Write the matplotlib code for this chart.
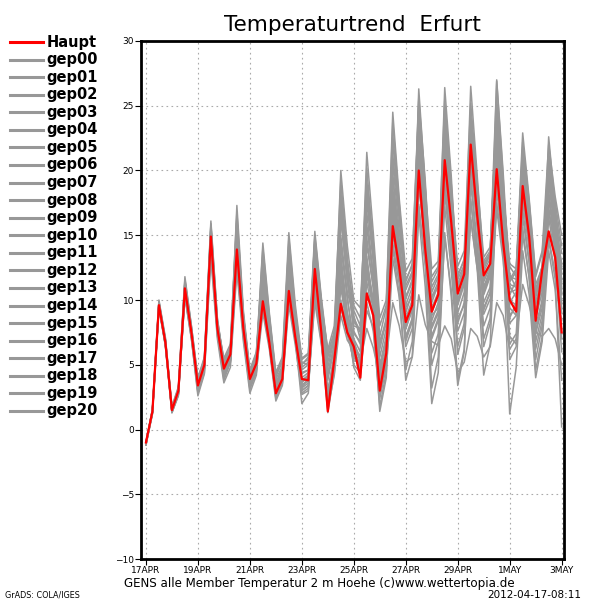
import matplotlib
matplotlib.use("Agg")
import matplotlib.pyplot as plt
from matplotlib.lines import Line2D

# forecast hours from 17APR 00Z, every 6 h up to 3MAY 00Z
hours = list(range(0, 385, 6))
tick_days = [0, 2, 4, 6, 8, 10, 12, 14, 16]
tick_labels = ["17APR", "19APR", "21APR", "23APR", "25APR", "27APR", "29APR", "1MAY", "3MAY"]

haupt = [-1.0, 1.4, 9.6, 6.7, 1.5, 3.0, 10.9, 7.5, 3.4, 5.0, 14.9, 7.8, 4.7, 5.8, 13.9, 7.8,
         3.9, 5.1, 9.9, 6.7, 2.8, 3.9, 10.7, 7.1, 3.9, 3.8, 12.4, 7.5, 1.4, 5.4, 9.7, 7.5,
         6.4, 4.0, 10.5, 8.8, 3.0, 5.9, 15.7, 12.5, 8.3, 9.6, 20.0, 13.9, 9.1, 10.4, 20.8, 16.0,
         10.5, 12.0, 22.0, 16.5, 11.9, 12.8, 20.1, 14.4, 10.0, 9.1, 18.8, 14.9, 8.4, 12.3, 15.3, 13.3,
         7.5]

gep00 = [-1.1, 1.5, 9.5, 6.9, 1.6, 3.1, 10.7, 7.7, 3.5, 5.2, 14.6, 8.0, 4.9, 5.9, 14.2, 8.1,
         4.2, 5.3, 10.4, 7.0, 3.2, 4.3, 11.6, 7.6, 4.4, 4.6, 13.1, 8.0, 2.6, 5.9, 11.2, 8.4,
         5.6, 4.8, 12.3, 9.6, 4.5, 6.8, 16.9, 13.0, 9.4, 10.3, 21.2, 15.0, 10.2, 11.0, 22.4, 17.1,
         11.6, 12.7, 21.5, 16.0, 12.4, 13.5, 19.2, 14.9, 11.1, 10.2, 17.6, 14.1, 9.6, 11.7, 16.8, 14.2,
         9.8]
gep01 = [-1.0, 1.3, 9.8, 6.5, 1.4, 2.9, 11.2, 7.3, 3.1, 4.8, 15.4, 7.6, 4.3, 5.5, 14.8, 7.5,
         3.5, 4.7, 9.4, 6.4, 2.4, 3.5, 10.1, 6.8, 3.4, 3.9, 12.8, 7.9, 2.2, 5.0, 13.5, 9.0,
         6.9, 5.2, 14.8, 10.9, 5.0, 7.2, 19.4, 14.6, 10.1, 11.4, 24.3, 17.8, 8.8, 9.4, 18.3, 13.2,
         7.6, 9.0, 16.2, 12.4, 8.9, 10.1, 17.5, 13.6, 10.4, 11.5, 20.3, 15.8, 11.2, 12.5, 18.9, 16.1,
         12.8]
gep02 = [-1.2, 1.2, 9.4, 6.6, 1.3, 2.7, 10.5, 7.2, 3.0, 4.6, 14.1, 7.4, 3.8, 5.2, 13.0, 7.1,
         3.1, 4.4, 11.8, 7.4, 3.6, 4.8, 13.4, 8.6, 5.1, 5.4, 14.6, 9.8, 5.6, 7.1, 16.2, 11.6,
         8.4, 7.5, 17.6, 12.9, 6.2, 8.4, 20.6, 15.3, 11.1, 12.2, 22.4, 16.6, 11.8, 12.6, 24.1, 18.4,
         12.6, 13.8, 25.2, 19.1, 13.3, 14.1, 23.4, 17.2, 12.0, 10.9, 19.8, 15.3, 9.2, 11.0, 18.1, 14.9,
         10.6]
gep03 = [-1.1, 1.4, 9.7, 6.8, 1.5, 2.8, 10.2, 7.0, 2.8, 4.4, 13.6, 7.2, 4.6, 5.6, 13.4, 7.6,
         3.8, 5.0, 10.8, 7.2, 3.4, 4.6, 11.8, 7.9, 4.6, 5.0, 11.6, 7.4, 3.1, 5.6, 10.0, 7.4,
         5.3, 5.2, 7.8, 6.3, 4.0, 5.4, 9.8, 8.0, 5.2, 5.6, 10.4, 8.1, 6.8, 6.5, 8.0, 7.0,
         4.4, 5.2, 7.8, 7.2, 5.6, 6.4, 9.8, 8.8, 6.2, 7.0, 11.2, 9.6, 7.5, 7.2, 7.8, 7.0,
         5.0]
gep04 = [-1.0, 1.5, 9.9, 7.0, 1.7, 3.2, 11.5, 7.9, 3.8, 5.4, 15.8, 8.4, 5.2, 6.2, 15.6, 8.6,
         4.4, 5.8, 12.6, 8.2, 3.9, 4.9, 12.3, 7.8, 3.2, 3.6, 10.9, 6.8, 1.8, 4.8, 12.6, 8.4,
         4.8, 3.8, 9.8, 7.6, 2.4, 4.9, 14.4, 11.2, 6.4, 7.8, 18.8, 14.1, 5.9, 7.4, 17.2, 12.3,
         5.8, 7.8, 19.6, 14.3, 9.4, 10.6, 21.8, 16.1, 8.6, 9.8, 18.4, 14.6, 6.8, 8.9, 14.8, 12.1,
         8.4]
gep05 = [-1.1, 1.3, 9.6, 6.4, 1.3, 2.6, 10.9, 7.4, 3.3, 4.9, 15.1, 7.9, 4.1, 5.3, 14.0, 7.7,
         3.3, 4.5, 9.0, 6.2, 2.2, 3.4, 9.6, 6.5, 2.8, 3.2, 11.2, 7.0, 1.6, 4.2, 8.8, 6.9,
         6.1, 4.6, 10.6, 8.9, 3.4, 5.2, 14.0, 10.4, 3.8, 5.6, 16.6, 11.0, 2.0, 4.4, 15.2, 10.3,
         3.4, 6.0, 17.8, 12.8, 6.4, 8.2, 20.2, 15.0, 7.2, 6.6, 17.0, 13.0, 5.4, 8.0, 16.4, 13.0,
         6.0]
gep06 = [-1.0, 1.4, 9.5, 6.7, 1.6, 3.0, 11.0, 7.6, 3.6, 5.1, 15.6, 8.2, 5.5, 6.6, 16.8, 8.9,
         4.0, 5.4, 13.6, 8.4, 3.0, 4.0, 14.8, 9.2, 5.2, 5.0, 15.0, 10.0, 5.8, 7.6, 18.4, 12.8,
         9.6, 8.6, 20.2, 14.0, 7.2, 9.4, 23.8, 17.4, 11.4, 12.8, 25.6, 19.2, 10.6, 11.8, 26.4, 19.6,
         11.2, 12.6, 23.8, 18.2, 12.8, 13.6, 25.0, 18.6, 11.6, 12.4, 21.6, 17.0, 10.4, 12.2, 21.4, 17.6,
         14.2]
gep07 = [-1.2, 1.2, 9.3, 6.5, 1.4, 2.8, 10.4, 7.1, 2.9, 4.7, 14.4, 7.5, 4.4, 5.4, 14.6, 7.9,
         3.7, 5.1, 10.0, 6.8, 2.6, 3.9, 10.8, 7.2, 3.7, 4.0, 12.0, 7.6, 1.5, 4.9, 9.4, 7.3,
         6.0, 4.3, 9.2, 7.9, 1.8, 4.4, 13.2, 10.2, 4.6, 6.8, 17.4, 12.6, 3.2, 5.6, 14.8, 10.8,
         3.8, 6.2, 16.4, 12.4, 4.2, 6.6, 18.6, 13.6, 1.2, 4.8, 13.8, 10.4, 4.0, 6.8, 13.8, 10.8,
         3.8]
gep08 = [-1.1, 1.6, 10.0, 7.1, 1.8, 3.3, 11.8, 8.0, 4.0, 5.6, 16.1, 8.6, 5.0, 6.0, 15.2, 8.3,
         4.1, 5.5, 14.4, 9.0, 4.4, 5.6, 15.2, 9.6, 5.5, 5.9, 15.3, 10.2, 6.0, 7.4, 14.0, 10.6,
         8.8, 7.0, 15.6, 12.0, 6.6, 8.6, 21.2, 16.2, 10.8, 12.0, 23.6, 17.4, 11.0, 12.0, 21.2, 16.8,
         11.8, 13.2, 22.6, 17.4, 12.2, 13.2, 24.2, 17.8, 12.6, 11.8, 22.2, 17.6, 11.8, 13.6, 20.4, 16.6,
         11.4]
gep09 = [-1.0, 1.4, 9.7, 6.6, 1.5, 3.0, 10.6, 7.4, 3.4, 5.0, 14.8, 7.8, 4.8, 5.8, 13.8, 7.8,
         3.9, 5.2, 11.2, 7.6, 3.1, 4.1, 12.6, 8.0, 4.0, 4.4, 13.4, 8.4, 3.8, 6.4, 17.4, 11.8,
         7.6, 6.6, 14.2, 11.0, 4.2, 6.2, 17.8, 13.6, 8.2, 9.6, 20.8, 15.8, 8.0, 9.2, 22.6, 17.0,
         9.6, 11.2, 24.4, 18.2, 10.6, 12.0, 26.9, 19.4, 9.8, 10.6, 19.2, 15.2, 8.6, 10.6, 22.6, 17.2,
         12.0]
gep10 = [-1.1, 1.3, 9.5, 6.8, 1.4, 2.9, 11.4, 7.8, 3.7, 5.3, 15.0, 8.1, 4.5, 5.7, 17.3, 9.2,
         4.5, 5.9, 13.0, 8.0, 3.7, 4.4, 11.0, 7.0, 2.0, 2.8, 12.2, 7.8, 2.8, 5.4, 11.8, 8.0,
         5.0, 4.4, 13.4, 9.4, 3.6, 6.0, 18.6, 14.2, 9.0, 10.6, 26.3, 18.8, 9.4, 10.6, 22.0, 16.6,
         10.6, 12.0, 20.4, 16.0, 11.4, 12.6, 22.8, 16.8, 10.0, 9.6, 20.8, 15.4, 7.6, 9.8, 19.6, 15.2,
         9.0]
gep11 = [-1.0, 1.5, 9.8, 6.9, 1.6, 3.0, 10.8, 7.5, 3.2, 4.8, 14.2, 7.6, 4.0, 5.2, 12.6, 7.3,
         3.2, 4.6, 9.8, 6.8, 2.9, 4.2, 10.4, 7.0, 3.0, 3.4, 10.2, 6.8, 1.3, 4.4, 11.0, 7.6,
         6.6, 5.6, 12.6, 9.8, 4.8, 7.0, 16.2, 12.2, 7.2, 8.6, 19.0, 14.4, 7.2, 8.6, 20.4, 15.4,
         9.0, 10.6, 21.0, 15.8, 9.8, 11.0, 20.6, 15.2, 8.2, 8.8, 16.4, 12.8, 7.4, 9.4, 17.8, 14.2,
         9.4]
gep12 = [-1.2, 1.4, 9.6, 6.7, 1.5, 3.1, 11.1, 7.6, 3.4, 5.1, 15.2, 8.0, 4.7, 5.9, 14.4, 8.0,
         3.6, 4.9, 12.2, 7.8, 3.3, 4.4, 13.0, 8.2, 4.3, 4.6, 13.8, 8.8, 4.4, 6.6, 16.6, 11.6,
         9.2, 8.0, 21.4, 15.2, 8.6, 10.0, 24.5, 17.8, 12.2, 13.2, 24.8, 18.6, 12.4, 13.0, 25.4, 19.0,
         12.0, 13.0, 22.4, 17.6, 13.0, 13.8, 24.6, 18.4, 12.8, 12.4, 22.9, 17.8, 12.0, 13.8, 22.0, 18.0,
         15.0]
gep13 = [-1.1, 1.3, 9.4, 6.5, 1.3, 2.7, 10.3, 7.0, 2.6, 4.3, 13.2, 7.0, 3.6, 4.8, 12.2, 6.8,
         2.8, 4.2, 10.6, 6.9, 2.5, 3.6, 11.2, 7.1, 2.7, 3.0, 11.6, 7.2, 2.4, 5.2, 15.0, 10.4,
         6.2, 5.0, 16.8, 11.8, 3.0, 5.8, 19.8, 14.0, 6.8, 8.4, 21.8, 15.2, 5.0, 6.8, 19.4, 13.6,
         6.4, 8.2, 19.0, 13.8, 7.0, 8.6, 21.2, 15.0, 5.4, 6.4, 15.6, 11.6, 4.6, 7.2, 17.2, 13.6,
         7.0]
gep14 = [-1.0, 1.5, 9.9, 6.9, 1.7, 3.2, 11.6, 8.0, 3.9, 5.5, 15.9, 8.5, 5.3, 6.4, 16.2, 8.8,
         4.3, 5.7, 12.8, 7.9, 3.5, 4.6, 12.0, 7.6, 4.8, 5.2, 14.2, 9.4, 4.8, 7.0, 20.0, 14.2,
         10.0, 9.4, 19.2, 14.4, 8.0, 9.6, 22.2, 16.6, 11.6, 12.6, 23.2, 17.6, 11.4, 12.4, 23.8, 18.0,
         10.8, 12.2, 26.5, 19.6, 12.6, 13.6, 27.0, 19.8, 11.4, 12.2, 21.2, 16.8, 10.8, 12.6, 20.8, 16.4,
         12.4]
gep15 = [-1.1, 1.4, 9.6, 6.6, 1.4, 2.8, 10.7, 7.3, 3.2, 4.7, 14.9, 7.8, 4.2, 5.4, 14.2, 7.8,
         3.4, 4.8, 11.4, 7.3, 3.0, 4.2, 11.4, 7.4, 3.6, 4.2, 12.4, 8.0, 4.2, 6.2, 16.4, 11.4,
         8.0, 7.8, 18.2, 13.6, 6.8, 8.2, 17.4, 13.2, 7.8, 9.4, 17.2, 13.0, 7.0, 8.4, 18.6, 14.2,
         8.6, 9.6, 17.6, 13.4, 8.0, 9.4, 17.0, 13.0, 6.6, 7.4, 15.0, 11.8, 6.2, 8.4, 14.6, 11.6,
         0.2]
gep16 = [-1.0, 1.3, 9.7, 6.8, 1.5, 3.0, 11.0, 7.5, 3.5, 5.0, 15.0, 7.9, 4.4, 5.6, 15.0, 8.2,
         3.9, 5.3, 12.0, 7.9, 3.5, 4.5, 12.8, 8.1, 3.8, 4.2, 13.0, 7.8, 2.4, 5.4, 14.6, 10.0,
         7.0, 6.0, 18.8, 13.2, 5.6, 7.8, 22.8, 16.8, 10.2, 11.6, 25.4, 18.4, 9.8, 11.2, 24.8, 18.2,
         10.4, 12.0, 23.0, 17.0, 11.0, 12.4, 23.8, 17.4, 11.2, 11.0, 21.8, 16.6, 10.6, 12.6, 21.0, 17.0,
         13.6]
gep17 = [-1.2, 1.5, 9.8, 6.9, 1.6, 3.1, 11.3, 7.7, 3.6, 5.2, 15.3, 8.1, 4.9, 6.0, 15.8, 8.5,
         4.2, 5.5, 13.2, 8.6, 4.1, 5.2, 14.0, 8.8, 5.0, 5.6, 14.4, 9.6, 6.2, 8.0, 19.2, 13.4,
         8.6, 7.6, 15.8, 11.6, 3.8, 6.4, 18.2, 14.0, 9.6, 11.0, 22.8, 17.0, 10.2, 11.4, 22.8, 17.2,
         10.0, 11.6, 21.8, 16.6, 11.6, 12.8, 25.6, 18.8, 11.8, 11.6, 20.6, 16.0, 9.8, 11.8, 19.0, 15.4,
         11.0]
gep18 = [-1.1, 1.4, 9.5, 6.7, 1.4, 2.9, 10.8, 7.4, 3.3, 4.9, 14.5, 7.7, 4.4, 5.5, 13.6, 7.6,
         3.6, 4.9, 10.4, 7.0, 2.9, 4.0, 11.0, 7.2, 3.3, 3.8, 10.6, 7.0, 2.0, 5.0, 12.0, 8.6,
         5.8, 4.8, 12.0, 9.2, 3.2, 5.6, 16.6, 12.6, 7.8, 9.2, 20.6, 15.6, 7.8, 9.0, 20.0, 15.0,
         8.2, 9.8, 20.8, 15.6, 9.2, 10.6, 20.4, 15.4, 8.8, 9.4, 18.0, 14.0, 8.0, 10.0, 18.4, 14.6,
         10.4]
gep19 = [-1.0, 1.3, 9.6, 6.6, 1.5, 3.0, 11.1, 7.6, 3.5, 5.1, 15.5, 8.3, 5.0, 6.2, 16.4, 8.8,
         4.6, 6.0, 14.0, 8.8, 4.2, 5.4, 14.4, 9.0, 5.4, 5.8, 14.8, 9.6, 5.2, 7.2, 17.8, 12.6,
         7.4, 6.8, 13.0, 10.0, 2.6, 5.0, 16.0, 12.0, 7.0, 8.4, 20.2, 15.4, 8.4, 9.8, 23.4, 17.6,
         11.0, 12.4, 24.0, 18.0, 10.4, 11.8, 23.0, 17.0, 10.6, 10.8, 19.6, 15.6, 10.2, 12.0, 20.0, 16.2,
         12.6]
gep20 = [-1.1, 1.5, 9.4, 6.8, 1.6, 3.1, 10.6, 7.3, 3.2, 4.8, 14.0, 7.5, 4.3, 5.4, 13.6, 7.4,
         3.4, 4.7, 10.2, 6.6, 2.7, 3.8, 10.4, 6.9, 3.0, 3.4, 9.8, 6.6, 2.0, 4.6, 13.0, 9.0,
         6.4, 5.4, 11.4, 8.6, 1.4, 4.0, 15.2, 11.6, 8.6, 10.0, 21.6, 16.2, 9.0, 10.4, 21.6, 16.4,
         9.8, 11.4, 22.8, 17.2, 10.8, 12.2, 22.2, 16.6, 9.4, 8.8, 19.0, 14.4, 8.8, 11.2, 19.8, 15.6,
         11.6]

members = [gep00, gep01, gep02, gep03, gep04, gep05, gep06, gep07, gep08, gep09, gep10,
           gep11, gep12, gep13, gep14, gep15, gep16, gep17, gep18, gep19, gep20]
member_names = ["gep%02d" % i for i in range(21)]

GRAY = "#989898"
RED = "#ff0000"

fig = plt.figure(figsize=(6, 6), dpi=100)
ax = fig.add_axes([0.235, 0.0683, 0.705, 0.8634])

days = [h / 24 for h in hours]
for m in members:
    ax.plot(days, m, color=GRAY, lw=1.1, zorder=2)
ax.plot(days, haupt, color=RED, lw=1.6, zorder=3)

ax.set_xlim(-0.19, 16.09)
ax.set_ylim(-10, 30)
ax.set_yticks(range(-10, 31, 5))
ax.set_xticks(tick_days)
ax.set_xticklabels(tick_labels)
ax.tick_params(axis="both", labelsize=6.5, length=4, width=0.8, direction="out", pad=1)
ax.grid(True, color="#aaaaaa", linestyle=(0, (1.5, 3)), linewidth=0.8, zorder=0)
for s in ax.spines.values():
    s.set_linewidth(2)

fig.text(0.588, 0.958, "Temperaturtrend  Erfurt", ha="center", va="center", fontsize=15.5)

# legend on the left, one row per line
y0 = 0.930
dy = 17.57 / 600
for i, (name, col) in enumerate([("Haupt", RED)] + [(n, GRAY) for n in member_names]):
    y = y0 - i * dy
    fig.add_artist(Line2D([0.017, 0.071], [y, y], color=col, lw=2.2))
    fig.text(0.078, y, name, ha="left", va="center", fontsize=10.5, fontweight="bold")

fig.text(0.533, 0.028, "GENS alle Member Temperatur 2 m Hoehe (c)www.wettertopia.de",
         ha="center", va="center", fontsize=8.6)
fig.text(0.008, 0.008, "GrADS: COLA/IGES", ha="left", va="center", fontsize=5.8)
fig.text(0.968, 0.008, "2012-04-17-08:11", ha="right", va="center", fontsize=7.5)

fig.savefig("out.png", dpi=100, facecolor="white")
